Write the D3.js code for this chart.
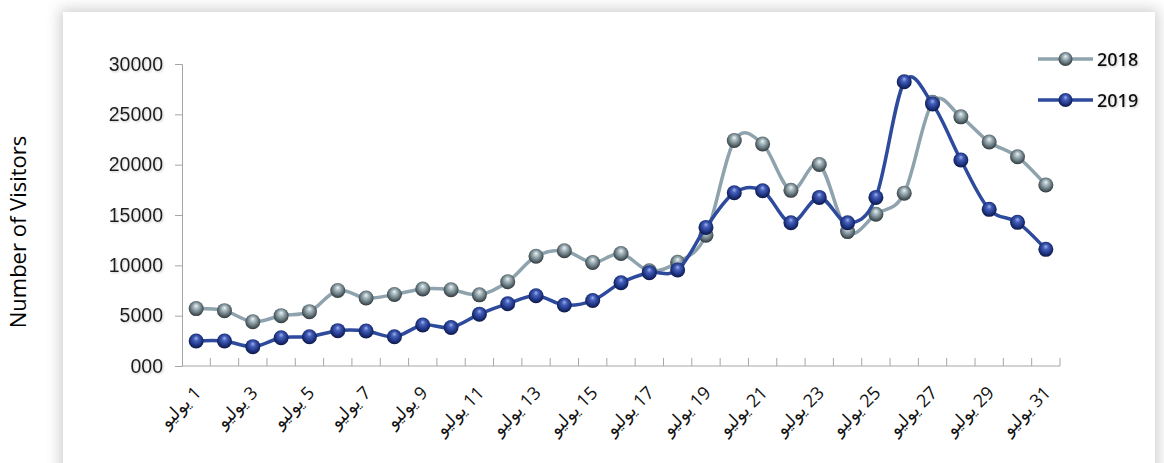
<!DOCTYPE html>
<html>
<head>
<meta charset="utf-8">
<script src="https://cdn.jsdelivr.net/npm/d3@7/dist/d3.min.js"></script>
<style>
  html, body { margin: 0; padding: 0; background: #fff; }
  svg { display: block; font-family: "Open Sans", "DejaVu Sans", sans-serif; }
</style>
</head>
<body>
<div class="chart"></div>
<script>
// values (visitors per day in July)
const days = [1, 2, 3, 4, 5, 6, 7, 8, 9, 10, 11, 12, 13, 14, 15, 16,
  17, 18, 19, 20, 21, 22, 23, 24, 25, 26, 27, 28, 29, 30, 31];
const visitors2018 = [5700, 5500, 4400, 5000, 5400, 7500, 6750, 7100, 7650, 7580,
  7070, 8370, 10900, 11450, 10280, 11170, 9450, 10300, 13000, 22400, 22050,
  17450, 20020, 13350, 15080, 17170, 26200, 24750, 22250, 20780, 17980];
const visitors2019 = [2480, 2480, 1920, 2810, 2910, 3510, 3480, 2900, 4070, 3820,
  5150, 6190, 6980, 6060, 6500, 8270, 9270, 9530, 13770, 17210, 17410,
  14230, 16750, 14230, 16750, 28230, 26020, 20460, 15560, 14270, 11590];
const yTicks = [0, 5000, 10000, 15000, 20000, 25000, 30000];
const monthName = 'يوليو';

const config = {
  width: 1164,
  height: 463,
  left: 182,
  right: 1060,
  top: 64,
  bottom: 366
};

const series = [
  { name: '2018', values: visitors2018, line: '#8ea3ad', grad: 'ball-gray' },
  { name: '2019', values: visitors2019, line: '#2d4a9c', grad: 'ball-blue' }
];

const svg = d3.select('.chart').append('svg')
  .attr('width', config.width)
  .attr('height', config.height);

const defs = svg.append('defs');

// soft card shadow
defs.append('filter').attr('id', 'card-shadow')
  .attr('x', '-10%').attr('y', '-10%').attr('width', '120%').attr('height', '130%')
  .append('feGaussianBlur').attr('stdDeviation', 7);

const txtShadow = defs.append('filter').attr('id', 'txt-shadow');
txtShadow.append('feDropShadow')
  .attr('dx', 1).attr('dy', 1).attr('stdDeviation', 0.8)
  .attr('flood-color', '#888').attr('flood-opacity', 0.45);

function ballGradient(id, stops) {
  const g = defs.append('radialGradient').attr('id', id)
    .attr('cx', '50%').attr('cy', '45%').attr('r', '55%')
    .attr('fx', '50%').attr('fy', '30%');
  stops.forEach(s => g.append('stop').attr('offset', s[0]).attr('stop-color', s[1]));
}
ballGradient('ball-gray', [['0%', '#eef3f5'], ['30%', '#a9bac0'], ['70%', '#62737a'], ['100%', '#2f383b']]);
ballGradient('ball-blue', [['0%', '#a2b2ea'], ['30%', '#4560bb'], ['70%', '#1f3584'], ['100%', '#0d1744']]);

// card
svg.append('rect')
  .attr('x', 60).attr('y', 9).attr('width', 1098).attr('height', 480)
  .attr('fill', '#cfcfcf')
  .attr('filter', 'url(#card-shadow)');
svg.append('rect')
  .attr('x', 63).attr('y', 12).attr('width', 1092).attr('height', 480)
  .attr('fill', '#fff');

const x = d3.scaleBand()
  .domain(days)
  .range([config.left, config.right]);

const y = d3.scaleLinear()
  .domain([0, 30000])
  .range([config.bottom, config.top]);

const cx = d => x(d) + x.bandwidth() / 2;

// y axis
const yAxis = svg.append('g')
  .attr('transform', `translate(${config.left},0)`)
  .call(d3.axisLeft(y)
    .tickValues(yTicks)
    .tickSize(7)
    .tickPadding(12)
    .tickFormat(d => d === 0 ? '000' : d));
yAxis.select('.domain').attr('stroke', '#a6a6a6');
yAxis.selectAll('.tick line').attr('stroke', '#a6a6a6');
yAxis.selectAll('.tick text')
  .attr('font-size', 19.5)
  .attr('fill', '#1a1a1a')
  .attr('filter', 'url(#txt-shadow)');

// x axis with ticks between categories, pointing inward
const xAxis = svg.append('g');
xAxis.append('line')
  .attr('x1', config.left).attr('x2', config.right)
  .attr('y1', config.bottom).attr('y2', config.bottom)
  .attr('stroke', '#a6a6a6');
xAxis.selectAll('line.tk')
  .data(days)
  .enter()
  .append('line')
  .attr('class', 'tk')
  .attr('x1', d => x(d) + x.step())
  .attr('x2', d => x(d) + x.step())
  .attr('y1', config.bottom)
  .attr('y2', config.bottom - 8)
  .attr('stroke', '#a6a6a6');

xAxis.selectAll('text')
  .data(days.filter(d => d % 2 === 1))
  .enter()
  .append('text')
  .attr('transform', d => `translate(${cx(d) + 6},${config.bottom + 28}) rotate(-45)`)
  .attr('text-anchor', 'end')
  .attr('font-size', 18)
  .attr('fill', '#111')
  .text(d => monthName + '\u200E ' + d);

// axis title
svg.append('text')
  .attr('transform', 'translate(26,232) rotate(-90)')
  .attr('text-anchor', 'middle')
  .attr('font-size', 22)
  .attr('font-weight', 500)
  .attr('fill', '#000')
  .text('Number of Visitors');

// lines and markers
const line = d3.line()
  .x((v, i) => cx(days[i]))
  .y(v => y(v))
  .curve(d3.curveCatmullRom.alpha(0));

series.forEach(s => {
  const g = svg.append('g');
  g.append('path')
    .attr('d', line(s.values))
    .attr('fill', 'none')
    .attr('stroke', s.line)
    .attr('stroke-width', 3.5)
    .attr('stroke-linejoin', 'round');
  g.selectAll('circle')
    .data(s.values)
    .enter()
    .append('circle')
    .attr('cx', (v, i) => cx(days[i]))
    .attr('cy', v => y(v))
    .attr('r', 7.5)
    .attr('fill', `url(#${s.grad})`);
});

// legend
const legend = svg.append('g')
  .selectAll('g')
  .data(series)
  .enter()
  .append('g')
  .attr('transform', (s, i) => `translate(1038,${59 + i * 41})`);
legend.append('line')
  .attr('x1', 0).attr('x2', 55)
  .attr('stroke', s => s.line)
  .attr('stroke-width', 3.5);
legend.append('circle')
  .attr('cx', 27.5)
  .attr('r', 7)
  .attr('fill', s => `url(#${s.grad})`);
legend.append('text')
  .attr('x', 59)
  .attr('y', 7)
  .attr('font-size', 18)
  .attr('font-weight', 600)
  .attr('fill', '#111')
  .attr('filter', 'url(#txt-shadow)')
  .text(s => s.name);
</script>
</body>
</html>
